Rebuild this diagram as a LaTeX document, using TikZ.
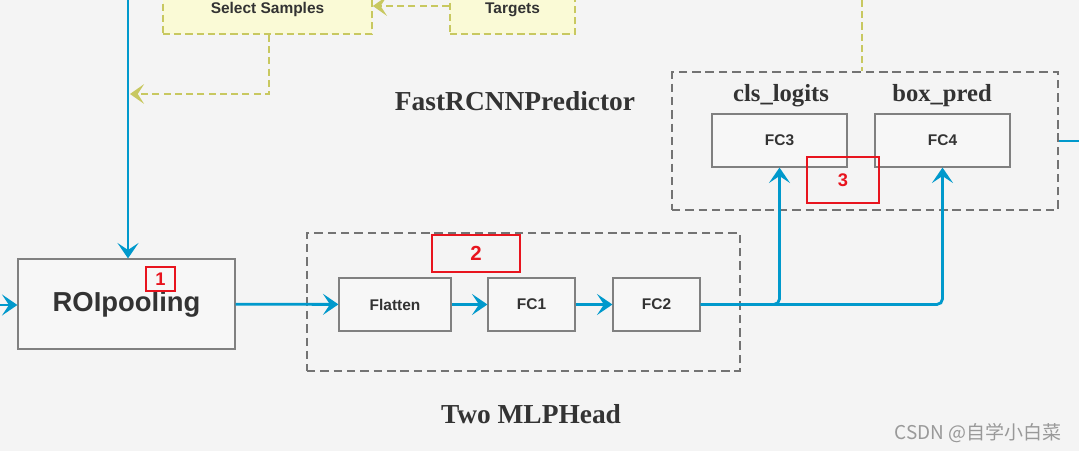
\documentclass[tikz,border=0pt]{standalone}
\usepackage{fontspec}
\setmainfont{Liberation Serif}
\setsansfont{Liberation Sans}
\newfontfamily\cjk{Noto Sans CJK SC}
\usetikzlibrary{arrows.meta}

\definecolor{flowblue}{RGB}{0,153,204}
\definecolor{sampleline}{RGB}{200,200,96}
\definecolor{samplefill}{RGB}{250,250,214}
\definecolor{markred}{RGB}{232,20,30}
\definecolor{textgray}{RGB}{51,51,51}
\definecolor{bggray}{RGB}{244,244,244}

\tikzset{
  layer/.style={draw=black!50, line width=0.8pt, fill=white!97!black, text=textgray,
    font=\sffamily\bfseries\fontsize{11}{13}\selectfont},
  samplebox/.style={draw=sampleline, line width=1.2pt, dash pattern=on 5pt off 3pt,
    fill=samplefill, text=textgray, font=\sffamily\bfseries\fontsize{11}{13}\selectfont},
  group/.style={draw=black!55, line width=1.5pt, dash pattern=on 6pt off 3.5pt},
  numbox/.style={draw=markred, line width=2pt, inner sep=0pt, text=markred,
    font=\sffamily\bfseries\fontsize{13}{15}\selectfont},
  title/.style={anchor=base, text=textgray, font=\bfseries\fontsize{19.5}{22}\selectfont},
  flow/.style={draw=flowblue, line width=2pt, rounded corners=4pt,
    -{Stealth[length=11pt, width=15pt, inset=5pt]}},
  sample/.style={draw=sampleline, line width=2pt, dash pattern=on 5pt off 3pt,
    -{Stealth[length=10pt, width=14pt, inset=4.5pt]}}
}

\begin{document}
\begin{tikzpicture}[x=0.025cm, y=-0.025cm]
            \clip (0,0) rectangle (1079,451);
            \fill [bggray] (0,0) rectangle (1079,451);

            % dashed groups
            \node [group, minimum width=10.825cm, minimum height=3.45cm] (mlp) at (523.5,302) {};
            \node [group, minimum width=9.65cm, minimum height=3.45cm] (pred) at (865,141) {};

            \node [samplebox, minimum width=5.225cm, minimum height=1.2cm] (select) at (267.5,10) {Select Samples};
            \node [samplebox, minimum width=3.125cm, minimum height=1.2cm] (targets) at (512.5,10) {Targets};

            \node [layer, minimum width=5.425cm, minimum height=2.25cm, font=\sffamily\bfseries\fontsize{19.5}{22}\selectfont] (roi) at (126.5,304) {ROIpooling};
            \node [layer, minimum width=2.8cm, minimum height=1.325cm] (flatten) at (395,304.5) {Flatten};
            \node [layer, minimum width=2.175cm, minimum height=1.325cm] (fc1) at (531.5,304.5) {FC1};
            \node [layer, minimum width=2.175cm, minimum height=1.325cm] (fc2) at (656.5,304.5) {FC2};
            \node [layer, minimum width=3.375cm, minimum height=1.325cm] (fc3) at (779.5,140.5) {FC3};
            \node [layer, minimum width=3.375cm, minimum height=1.325cm] (fc4) at (942.5,140.5) {FC4};

            \node [title] (predname) at (515,111) {FastRCNNPredictor};
            \node [title] (mlpname) at (531,424) {Two MLPHead};
            \node [title, font=\bfseries\fontsize{17.5}{20}\selectfont] (clsname) at (781,102) {cls\_logits};
            \node [title, font=\bfseries\fontsize{17.5}{20}\selectfont] (boxname) at (942,102) {box\_pred};

            \node [numbox, minimum width=0.725cm, minimum height=0.6cm] (n1) at (160.5,279) {1};
            \node [numbox, minimum width=2.2cm, minimum height=0.925cm, font=\sffamily\bfseries\fontsize{14.5}{16}\selectfont] (n2) at (476,253.5) {2};
            \node [numbox, minimum width=1.8cm, minimum height=1.15cm] (n3) at (843,180) {3};

            \node [anchor=base, text=black!40, font=\cjk\fontsize{13.5}{16}\selectfont] (mark) at (978,440) {CSDN @自学小白菜};

            \coordinate (top) at (128,0);
            \coordinate (left) at (0,305);
            \coordinate (right) at (1079,141);
            \coordinate (predtop) at (862,0);
            \coordinate (join) at (130,94);

            \draw [flow] (top) -- (roi.north -| top);
            \draw [flow] (left) -- (roi.west |- left);
            \draw [flow] (roi) -- (flatten);
            \draw [flow] (flatten) -- (fc1);
            \draw [flow] (fc1) -- (fc2);
            \draw [flow] (fc2.east) -| (fc3.south);
            \draw [flow] (fc2.east) -| (fc4.south);
            \draw [flow, -] (pred.east |- right) -- (right);

            \draw [sample] (targets.west |- 0,6) -- (select.east |- 0,6);
            \draw [sample] (select.south -| 269,0) |- (join);
            \draw [sample, -] (predtop) -- (pred.north -| predtop);
        \end{tikzpicture}
\end{document}
